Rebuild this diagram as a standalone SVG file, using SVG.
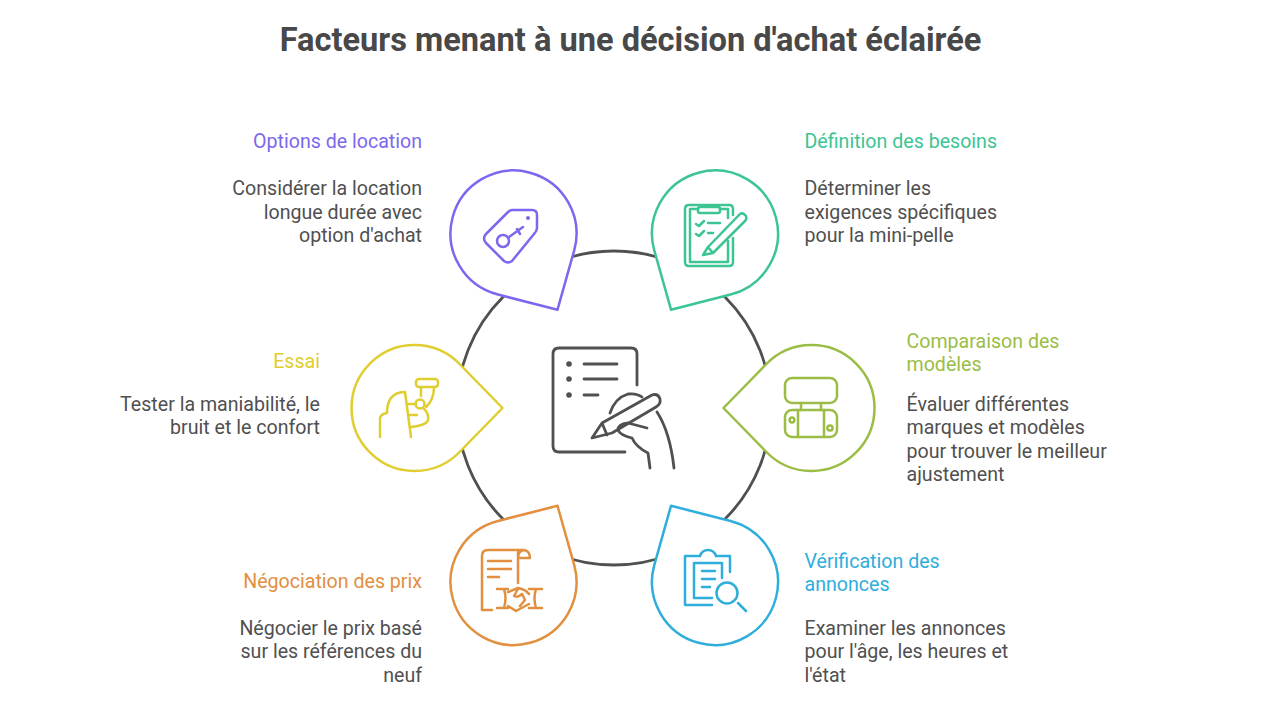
<svg xmlns="http://www.w3.org/2000/svg" width="1280" height="720" viewBox="0 0 1280 720">
<style>
text{font-family:Roboto,"Liberation Sans",sans-serif;font-size:19.6px;fill:#505050}
.title{font-size:32.6px;font-weight:700;text-anchor:middle;fill:#484848}
.e{text-anchor:end}
.drop{fill:#fff;stroke-width:2.5;stroke-linejoin:round}
.ic{fill:none;stroke-width:2.5;stroke-linecap:round;stroke-linejoin:round}
.dark{fill:none;stroke:#505050;stroke-width:2.8;stroke-linecap:round;stroke-linejoin:round}
</style>
<defs><path id="d" d="M-88,0L-45.1,-44A63,63 0 1 1 -45.1,44Z"/></defs>
<rect width="1280" height="720" fill="#fff"/>
<text class="title" x="630.5" y="51">Facteurs menant à une décision d'achat éclairée</text>
<g id="connectors"><circle cx="614" cy="408" r="157" fill="none" stroke="#505050" stroke-width="2.8"/></g>

<g id="center" class="dark">
<path d="M637,385V354Q637,348 631,348H559Q553,348 553,354V446Q553,452 559,452H625"/>
<circle cx="569" cy="364" r="1.4"/><circle cx="569" cy="379" r="1.4"/><circle cx="569" cy="395" r="1.4"/>
<path d="M584,364H617M584,379H617M584,395H598"/>
<path d="M592,438L602,423L652,395Q658,393 660,399Q661,404 656,407L612,433ZM602,423L607,435"/>
<path d="M610,413Q615,398 628,394Q637,393 642,397M647,428L628,423Q618,424 618,430Q620,435 632,438Q636,447 648,453L650,468M657,412Q670,432 674,468"/>
</g>

<g id="node-options" stroke="#7B68EE">
<use href="#d" class="drop" transform="translate(513.5,233.5) rotate(-120)"/>
<g class="ic"><path d="M512,210H532Q537,210 537,215V228Q537,231 534,234L512,261Q508,264 504,261L486,243Q482,238 486,234L508,212Q510,210 512,210Z"/>
<circle cx="503" cy="241" r="6"/><path d="M509,237L523,227M517,229L520,234"/></g><circle cx="528" cy="218" r="2" fill="#7B68EE" stroke="none"/>
<text class="e" x="422" y="147.500" style="fill:#7B68EE" stroke="none">Options de location</text>
<g stroke="none"><text class="e" x="422" y="195">Considérer la location</text><text class="e" x="422" y="218.500">longue durée avec</text><text class="e" x="422" y="242">option d'achat</text></g>
</g>

<g id="node-besoins" stroke="#3CC593">
<use href="#d" class="drop" transform="translate(715,233.5) rotate(-60)"/>
<g class="ic"><path d="M733,215V209Q733,205 729,205H689Q685,205 685,209V262Q685,266 689,266H729Q733,266 733,262V238"/>
<path d="M698,209H690V262H728V241M720,209H728V218"/><rect x="698" y="207" width="22" height="6" rx="2"/>
<path d="M703,255L708,247L740,214Q743,212 746,216Q747,219 745,221L713,253ZM708,247L713,253"/>
<path d="M696,224L699,226L704,221M696,234L699,236L704,231M708,223H720M708,233H713"/></g>
<text x="804.500" y="147.500" style="fill:#3CC593" stroke="none">Définition des besoins</text>
<g stroke="none"><text x="804.500" y="195">Déterminer les</text><text x="804.500" y="218.500">exigences spécifiques</text><text x="804.500" y="242">pour la mini-pelle</text></g>
</g>

<g id="node-comparaison" stroke="#9BBD45">
<use href="#d" class="drop" transform="translate(811.5,408)"/>
<g class="ic"><rect x="785" y="378" width="52" height="25" rx="7"/><rect x="785" y="410" width="52" height="27" rx="7"/>
<path d="M801,403V410M821,403V410M798,410V437M824,410V437"/><circle cx="792" cy="420" r="2.4"/><circle cx="830" cy="428" r="2.6"/></g>
<g stroke="none"><text x="906.500" y="347.500" style="fill:#9BBD45">Comparaison des</text><text x="906.500" y="371" style="fill:#9BBD45">modèles</text>
<text x="906.500" y="410.500">Évaluer différentes</text><text x="906.500" y="434">marques et modèles</text><text x="906.500" y="457.500">pour trouver le meilleur</text><text x="906.500" y="481">ajustement</text></g>
</g>

<g id="node-essai" stroke="#E0CD2F">
<use href="#d" class="drop" transform="translate(414.5,408) rotate(180)"/>
<g class="ic"><rect x="416" y="379" width="22" height="8" rx="3"/><path d="M421,387V396M434,387Q434,400 426,407"/><circle cx="420" cy="404" r="4.5"/>
<path d="M405,392L411,437M380,437V418Q381,414 387,413Q387,393 404,392M408,404H416M410,415H417M424,409Q429,413 428,420Q427,425 411,427"/></g>
<g stroke="none"><text class="e" x="320" y="367.500" style="fill:#E0CD2F">Essai</text>
<text class="e" x="320" y="410.500">Tester la maniabilité, le</text><text class="e" x="320" y="434">bruit et le confort</text></g>
</g>

<g id="node-negociation" stroke="#E28F3F">
<use href="#d" class="drop" transform="translate(513.5,582) rotate(120)"/>
<g class="ic"><path d="M492,610H482V556Q482,550 488,550H524Q530,551 530,558H518M518,552V583M524,550Q518,551 518,558"/>
<path d="M488,561H511M488,569H511M488,577H499"/>
<path d="M497,589H508M497,608H508M529,589H542M529,608H542M504,589Q507,598 504,608M536,589Q533,598 536,608"/>
<path d="M508,592L518,588Q523,589 526,591L529,594M508,606L516,611L529,604M518,589L514,596Q518,598 522,594L525,600L520,606"/></g>
<g stroke="none"><text class="e" x="422" y="587.500" style="fill:#E28F3F">Négociation des prix</text>
<text class="e" x="422" y="634.500">Négocier le prix basé</text><text class="e" x="422" y="658">sur les références du</text><text class="e" x="422" y="681.500">neuf</text></g>
</g>

<g id="node-verification" stroke="#2FAEDB">
<use href="#d" class="drop" transform="translate(715,582) rotate(60)"/>
<g class="ic"><path d="M730,572V556H716Q714,550 708,550Q702,550 700,556H685V605H712"/>
<path d="M722,578V563H694V598H712M702,571H715M702,579H715M702,587H710"/>
<circle cx="727" cy="593" r="10.5"/><path d="M738,603L746,611"/></g>
<g stroke="none"><text x="804.500" y="567.500" style="fill:#2FAEDB">Vérification des</text><text x="804.500" y="591" style="fill:#2FAEDB">annonces</text>
<text x="804.500" y="634.500">Examiner les annonces</text><text x="804.500" y="658">pour l'âge, les heures et</text><text x="804.500" y="681.500">l'état</text></g>
</g>
</svg>
